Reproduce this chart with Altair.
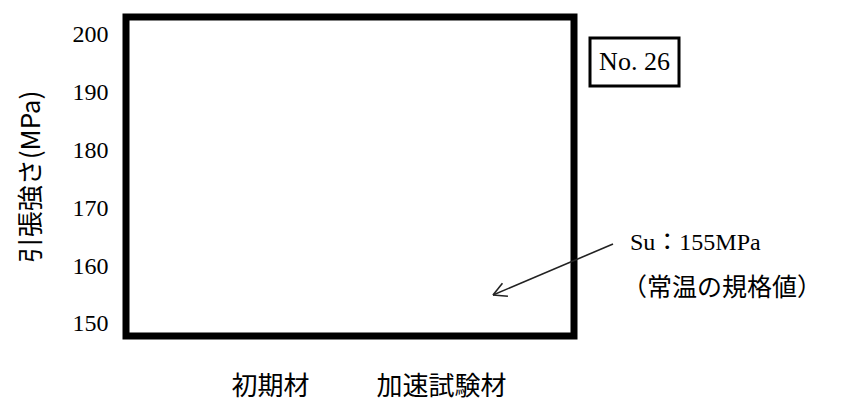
import math
import altair as alt
import pandas as pd

# ---- data ----
categories = ["初期材", "加速試験材"]
su_value = [155, 155]                  # standard value (MPa) the arrow points at
y_ticks = [150, 160, 170, 180, 190, 200]
y_domain = [147.9, 203.1]
panel_label = ["No. 26"]
note_lines = ["Su：155MPa", "（常温の規格値）"]
y_title = "引張強さ(MPa)"

W, H = 448, 319
CJK = "Noto Sans CJK JP"
SERIF = "Liberation Serif, Noto Sans CJK JP"

df = pd.DataFrame({"材料": categories, "Su": su_value})
su_df = pd.DataFrame({"Su": su_value[:1]})

yscale = alt.Scale(domain=y_domain, nice=False, zero=False)
xscale = alt.Scale(type="point", padding=0.81, align=0.52)

y_enc = alt.Y(
    "Su:Q",
    scale=yscale,
    axis=alt.Axis(
        title=y_title, values=y_ticks, grid=False, domain=False, ticks=False,
        tickSize=0, labelPadding=18, labelFont=SERIF, labelFontSize=24,
        labelColor="#000", titleFont=CJK, titleFontSize=26, titleFontWeight="normal",
        titleColor="#000", titlePadding=28,
    ),
)
x_enc = alt.X(
    "材料:N",
    scale=xscale,
    sort=categories,
    axis=alt.Axis(
        title=None, labelAngle=0, grid=False, domain=False, ticks=False, tickSize=0,
        labelPadding=37, labelFont=CJK, labelFontSize=26, labelColor="#000",
    ),
)

base = alt.Chart(df).mark_point(opacity=0).encode(x=x_enc, y=y_enc)

# arrow from label towards Su level
tip_x = 367
start_x, start_y = 487, 227
tip_y = (y_domain[1] - su_value[0]) / (y_domain[1] - y_domain[0]) * H
ang = math.atan2(start_y - tip_y, start_x - tip_x)
L = 15
wings = []
for d in (math.radians(28), -math.radians(28)):
    wings.append((tip_x + L * math.cos(ang + d), tip_y + L * math.sin(ang + d)))

arrow = alt.Chart(su_df).mark_rule(color="#222", strokeWidth=1.6).encode(
    x=alt.value(tip_x), x2=alt.value(start_x), y=y_enc, y2=alt.value(start_y)
)
wing_layers = [
    alt.Chart(su_df).mark_rule(color="#222", strokeWidth=1.6).encode(
        x=alt.value(tip_x), x2=alt.value(wx), y=y_enc, y2=alt.value(wy)
    )
    for wx, wy in wings
]

box = alt.Chart(pd.DataFrame({"t": panel_label})).mark_rect(
    fill="white", stroke="black", strokeWidth=3
).encode(x=alt.value(464), x2=alt.value(553), y=alt.value(21), y2=alt.value(69))

box_text = alt.Chart(pd.DataFrame({"t": panel_label})).mark_text(
    font=SERIF, fontSize=26, color="#000", align="center", baseline="middle"
).encode(x=alt.value(508.5), y=alt.value(45), text="t:N")

note1 = alt.Chart(pd.DataFrame({"t": note_lines[:1]})).mark_text(
    font=SERIF, fontSize=24, color="#000", align="left", baseline="middle"
).encode(x=alt.value(504), y=alt.value(226), text="t:N")

note2 = alt.Chart(pd.DataFrame({"t": note_lines[1:]})).mark_text(
    font=CJK, fontSize=25, color="#000", align="left", baseline="middle"
).encode(x=alt.value(496), y=alt.value(271), text="t:N")

chart = alt.layer(base, arrow, *wing_layers, box, box_text, note1, note2).properties(
    width=W, height=H,
    autosize=alt.AutoSizeParams(type="none"),
    padding={"left": 118, "top": 9, "right": 259, "bottom": 64},
).configure_view(stroke="black", strokeWidth=7)

chart.save("out.html", embed_options={"renderer": "svg", "actions": False})
